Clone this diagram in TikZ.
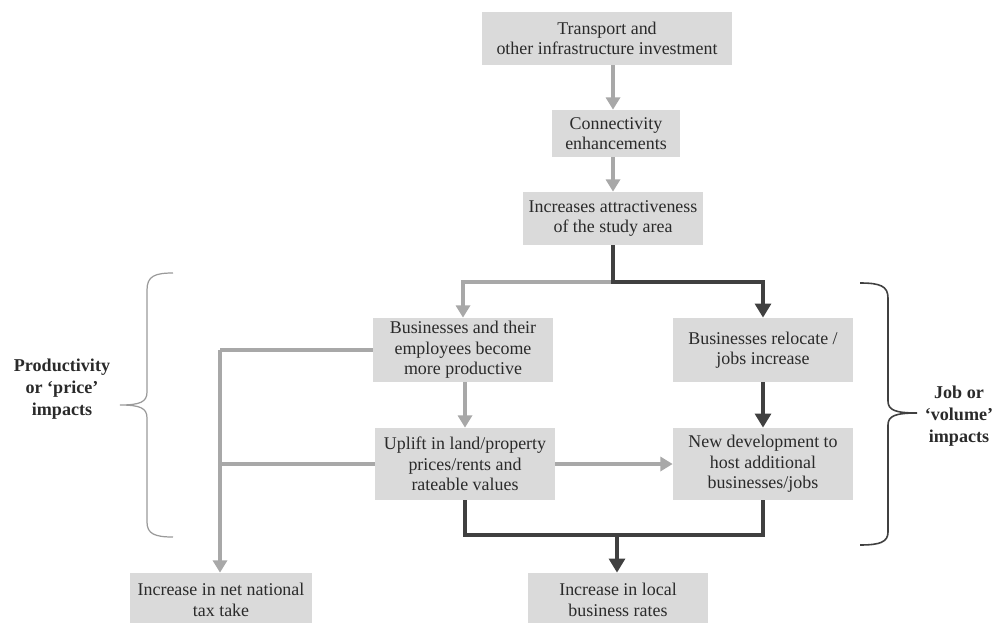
\documentclass[tikz,border=0pt]{standalone}
\usepackage{fontspec}
\setmainfont{Liberation Serif}
\usetikzlibrary{arrows.meta}

\definecolor{boxfill}{HTML}{DADADA}
\definecolor{lightline}{HTML}{A8A8A8}
\definecolor{darkline}{HTML}{404040}
\definecolor{inkgrey}{HTML}{2A2A2A}
\definecolor{bracegrey}{HTML}{9A9A9A}

\tikzset{
  flowbox/.style={fill=boxfill, draw=none, align=center, inner sep=0pt,
    text=inkgrey, font=\fontsize{10.2}{11.6}\selectfont},
  lightarrow/.style={draw=lightline, line width=2.3pt,
    -{Triangle[width=8pt,length=7pt]}},
  lightlink/.style={draw=lightline, line width=2.3pt},
  darkarrow/.style={draw=darkline, line width=2.8pt,
    -{Triangle[width=9pt,length=8pt]}},
  darklink/.style={draw=darkline, line width=2.8pt},
  sidelabel/.style={align=center, text=inkgrey,
    font=\fontsize{10.3}{12.5}\selectfont\bfseries},
}

\begin{document}
\begin{tikzpicture}[x=0.02cm, y=-0.02cm]
\useasboundingbox (0,0) rectangle (997,622);

% boxes of the chain
\node[flowbox, minimum width=5.0cm, minimum height=1.06cm] (b1) at (607,38.5)
  {Transport and\\other infrastructure investment};
\node[flowbox, minimum width=2.56cm, minimum height=0.94cm] (b2) at (616,133.5)
  {Connectivity\\enhancements};
\node[flowbox, minimum width=3.6cm, minimum height=1.06cm] (b3) at (613,218.5)
  {Increases attractiveness\\of the study area};
\node[flowbox, minimum width=3.6cm, minimum height=1.28cm] (b4) at (463,350)
  {Businesses and their\\employees become\\more productive};
\node[flowbox, minimum width=3.6cm, minimum height=1.28cm] (b5) at (763,350)
  {Businesses relocate /\\jobs increase};
\node[flowbox, minimum width=3.6cm, minimum height=1.44cm] (b6) at (465,464)
  {Uplift in land/property\\prices/rents and\\rateable values};
\node[flowbox, minimum width=3.6cm, minimum height=1.44cm] (b7) at (763,464)
  {New development to\\host additional\\businesses/jobs};
\node[flowbox, minimum width=3.64cm, minimum height=1.08cm] (b8) at (221,600)
  {Increase in net national\\tax take};
\node[flowbox, minimum width=3.6cm, minimum height=1.08cm] (b9) at (618,600)
  {Increase in local\\business rates};

% junction points
\coordinate (split) at (613,282);
\coordinate (side) at (220,350);
\coordinate (merge) at (617,535);

% top chain
\draw[lightarrow] (b3.north |- b1.south) -- (b3.north |- b2.north);
\draw[lightarrow] (b3.north |- b2.south) -- (b3.north);

% split towards price and volume branches
\draw[lightarrow] (split) -| (b4.north);
\draw[darkarrow] (b3.south) -- (split) -| (b5.north);

% price branch
\draw[lightarrow] (b4.south -| b6.north) -- (b6.north);
\draw[lightarrow] (b6.east) -- (b7.west);
\draw[lightlink] (b4.west) -- (side);
\draw[lightlink] (b6.west) -- (side |- b6.west);
\draw[lightarrow] (side) -- (side |- b8.north);

% volume branch
\draw[darkarrow] (b5.south) -- (b7.north);

% merge into local business rates
\draw[darklink] (b6.south) |- (merge) -| (b7.south);
\draw[darkarrow] (merge) -- (merge |- b9.north);

% braces
\draw[bracegrey, line width=0.7pt]
  (173,273) .. controls (155,273) and (147,276) .. (147,290) -- (147,392)
  .. controls (147,402) and (140,405) .. (120,405)
  .. controls (140,405) and (147,408) .. (147,418) -- (147,522)
  .. controls (147,534) and (155,537) .. (173,537);
\draw[darkline, line width=0.9pt]
  (860,283) .. controls (880,283) and (888,286) .. (888,298) -- (888,401)
  .. controls (888,410) and (895,413) .. (917,413)
  .. controls (895,413) and (888,416) .. (888,425) -- (888,532)
  .. controls (888,542) and (880,545) .. (860,545);

% side labels
\node[sidelabel] (price) at (62,389) {Productivity\\or ‘price’\\impacts};
\node[sidelabel] (volume) at (959,416) {Job or\\‘volume’\\impacts};

\end{tikzpicture}
\end{document}
